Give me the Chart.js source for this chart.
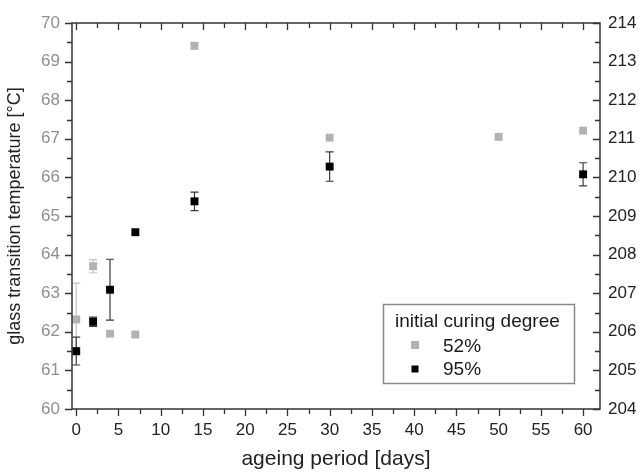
<!DOCTYPE html>
<html>
<head>
<meta charset="utf-8">
<script src="https://cdn.jsdelivr.net/npm/chart.js@4.4.1/dist/chart.umd.min.js"></script>
<style>
  html, body { margin: 0; padding: 0; background: #fff; }
  canvas { display: block; }
</style>
</head>
<body>
<canvas id="tg-chart" width="639" height="472"></canvas>
<script>
// ageing period [days] and Tg values
const days52 = [0, 2, 4, 7, 14, 30, 50, 60];
const tg52 = [62.32, 63.70, 61.95, 61.93, 69.41, 67.03, 67.05, 67.21];
const err52 = [0.94, 0.17, 0, 0, 0.08, 0, 0, 0];

const days95 = [0, 2, 4, 7, 14, 30, 60];
const tg95 = [205.50, 206.26, 207.09, 208.58, 209.38, 210.28, 210.08];
const err95 = [0.36, 0.12, 0.79, 0, 0.24, 0.38, 0.30];

const xTicks = [0, 5, 10, 15, 20, 25, 30, 35, 40, 45, 50, 55, 60];
const leftTicks = [60, 61, 62, 63, 64, 65, 66, 67, 68, 69, 70];
const rightTicks = [204, 205, 206, 207, 208, 209, 210, 211, 212, 213, 214];

const legendTitle = "initial curing degree";
const seriesLabels = ["52%", "95%"];

const GRAY = "#b2b2b2";
const BLACK = "#000000";
const AXIS = "#333333";
const FONT = "'Liberation Sans', Arial, sans-serif";

function toPoints(xs, ys) {
  return xs.map((x, i) => ({ x: x, y: ys[i] }));
}

function fixedTicks(values) {
  return (scale) => {
    scale.ticks = values.map((v) => ({ value: v }));
  };
}

const errorBarPlugin = {
  id: "errorBars",
  beforeDatasetsDraw(chart) {
    const ctx = chart.ctx;
    const sets = [
      { days: days52, vals: tg52, errs: err52, axis: "y", color: "#c4c4c4" },
      { days: days95, vals: tg95, errs: err95, axis: "y2", color: "#3a3a3a" }
    ];
    ctx.save();
    ctx.lineWidth = 1.2;
    sets.forEach((set) => {
      const ys = chart.scales[set.axis];
      ctx.strokeStyle = set.color;
      set.days.forEach((d, i) => {
        const e = set.errs[i];
        if (!e) return;
        const px = chart.scales.x.getPixelForValue(d);
        const top = ys.getPixelForValue(set.vals[i] + e);
        const bot = ys.getPixelForValue(set.vals[i] - e);
        ctx.beginPath();
        ctx.moveTo(px, top);
        ctx.lineTo(px, bot);
        ctx.moveTo(px - 4, top);
        ctx.lineTo(px + 4, top);
        ctx.moveTo(px - 4, bot);
        ctx.lineTo(px + 4, bot);
        ctx.stroke();
      });
    });
    ctx.restore();
  }
};

const framePlugin = {
  id: "frame",
  afterDraw(chart) {
    const ctx = chart.ctx;
    const a = chart.chartArea;
    const x = chart.scales.x;
    const y = chart.scales.y;
    const y2 = chart.scales.y2;
    ctx.save();
    ctx.strokeStyle = AXIS;
    ctx.lineWidth = 1.5;
    ctx.strokeRect(a.left, a.top, a.right - a.left, a.bottom - a.top);

    ctx.lineWidth = 1.3;
    ctx.beginPath();
    // bottom (outward) and top (inward), minor every 2.5
    for (let v = 0; v <= 60; v += 2.5) {
      const px = Math.round(x.getPixelForValue(v)) + 0.5;
      const major = v % 5 === 0;
      ctx.moveTo(px, a.bottom);
      ctx.lineTo(px, a.bottom + (major ? 7 : 5));
      ctx.moveTo(px, a.top);
      ctx.lineTo(px, a.top + (major ? 7 : 5));
    }
    // left (outward), minor every 0.5
    for (let v = 60; v <= 70; v += 0.5) {
      const py = Math.round(y.getPixelForValue(v)) + 0.5;
      const major = v % 1 === 0;
      ctx.moveTo(a.left, py);
      ctx.lineTo(a.left - (major ? 7 : 5), py);
    }
    // right (inward)
    for (let v = 204; v <= 214; v += 0.5) {
      const py = Math.round(y2.getPixelForValue(v)) + 0.5;
      const major = v % 1 === 0;
      ctx.moveTo(a.right, py);
      ctx.lineTo(a.right - (major ? 7 : 5), py);
    }
    ctx.stroke();

    // legend box
    ctx.strokeStyle = "#8a8a8a";
    ctx.lineWidth = 1.5;
    ctx.strokeRect(383.5, 304.5, 191, 79);
    ctx.fillStyle = "#1a1a1a";
    ctx.font = "19px " + FONT;
    ctx.textBaseline = "alphabetic";
    ctx.fillText(legendTitle, 395, 327);
    ctx.fillText(seriesLabels[0], 443, 352);
    ctx.fillText(seriesLabels[1], 443, 375);
    ctx.fillStyle = GRAY;
    ctx.fillRect(411, 341, 8, 8);
    ctx.fillStyle = BLACK;
    ctx.fillRect(411.5, 365.5, 7, 7);
    ctx.restore();
  }
};

const chart = new Chart(document.getElementById("tg-chart"), {
  type: "scatter",
  data: {
    datasets: [
      {
        label: seriesLabels[0],
        data: toPoints(days52, tg52),
        yAxisID: "y",
        pointStyle: "rect",
        pointRadius: 5.6,
        pointHoverRadius: 5.6,
        backgroundColor: GRAY,
        borderColor: GRAY,
        borderWidth: 0
      },
      {
        label: seriesLabels[1],
        data: toPoints(days95, tg95),
        yAxisID: "y2",
        pointStyle: "rect",
        pointRadius: 5.6,
        pointHoverRadius: 5.6,
        backgroundColor: BLACK,
        borderColor: BLACK,
        borderWidth: 0
      }
    ]
  },
  options: {
    responsive: false,
    animation: false,
    layout: { padding: { top: 23, left: 0, right: 0, bottom: 0 } },
    plugins: {
      legend: { display: false },
      tooltip: { enabled: false }
    },
    scales: {
      x: {
        type: "linear",
        position: "bottom",
        min: -0.5,
        max: 62,
        afterBuildTicks: fixedTicks(xTicks),
        afterFit: (scale) => { scale.height = 63; },
        grid: { display: false, drawTicks: false },
        border: { display: false },
        ticks: { color: "#222", padding: 11, font: { family: FONT, size: 17 } },
        title: {
          display: true,
          text: "ageing period [days]",
          color: "#222",
          padding: { top: 0, bottom: 0 },
          font: { family: FONT, size: 21 }
        }
      },
      y: {
        position: "left",
        min: 60,
        max: 70,
        afterBuildTicks: fixedTicks(leftTicks),
        afterFit: (scale) => { scale.width = 72; },
        grid: { display: false, drawTicks: false },
        border: { display: false },
        ticks: { color: "#8f8f8f", padding: 12, font: { family: FONT, size: 17 } },
        title: {
          display: true,
          text: "glass transition temperature [°C]",
          color: "#222",
          padding: { top: 4, bottom: 4 },
          font: { family: FONT, size: 18 }
        }
      },
      y2: {
        position: "right",
        min: 204,
        max: 214,
        afterBuildTicks: fixedTicks(rightTicks),
        afterFit: (scale) => { scale.width = 39; },
        grid: { display: false, drawTicks: false },
        border: { display: false },
        ticks: { color: "#222", padding: 8, font: { family: FONT, size: 17 } }
      }
    }
  },
  plugins: [errorBarPlugin, framePlugin]
});
</script>
</body>
</html>
